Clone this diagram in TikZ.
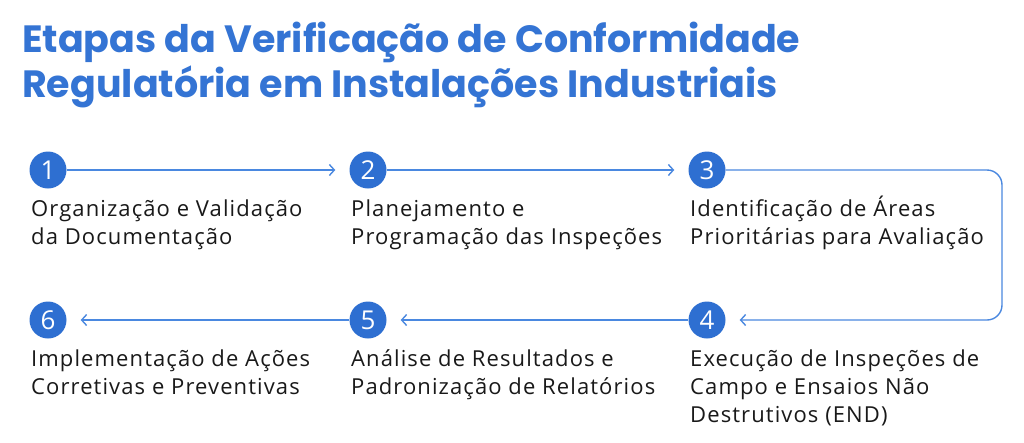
\documentclass[tikz,border=0pt]{standalone}
\usepackage{fontspec}
\setmainfont{Open Sans}
\newfontfamily\bodyfont{Open Sans}[LetterSpace=5]
\newfontfamily\titlefont{Poppins}[BoldFont={* Bold}]
\usetikzlibrary{arrows.meta}
\definecolor{titleblue}{RGB}{52,116,212}
\definecolor{circblue}{RGB}{46,111,209}
\definecolor{lineblue}{RGB}{74,136,224}
\definecolor{txt}{RGB}{25,25,25}
\tikzset{
  stepcirc/.style={circle, fill=circblue, minimum size=37pt, inner sep=0pt, text=white,
    font=\fontsize{26}{26}\selectfont},
  steptext/.style={anchor=base west, align=left, inner sep=0pt, text=txt,
    font=\bodyfont\fontsize{22}{28}\selectfont},
  flow/.style={draw=lineblue, line width=1.4pt, shorten >=14pt,
    -{Straight Barb[length=5pt,width=11pt]}},
  titletext/.style={anchor=base west, inner sep=0pt, text=titleblue,
    font=\titlefont\bfseries\fontsize{38}{45}\selectfont},
}
\begin{document}
\begin{tikzpicture}[x=1pt,y=-1pt]
\useasboundingbox[fill=white] (0,0) rectangle (1024,442);
% title
\node[titletext] (t1) at (22,52) {Etapas da Verificação de Conformidade};
\node[titletext] (t2) at (22,97) {Regulatória em Instalações Industriais};
% circles
\node[stepcirc] (c1) at (48,170) {1};
\node[stepcirc] (c2) at (368,170) {2};
\node[stepcirc] (c3) at (707,170) {3};
\node[stepcirc] (c4) at (707,320) {4};
\node[stepcirc] (c5) at (368,320) {5};
\node[stepcirc] (c6) at (48,320) {6};
% texts (anchor = baseline of last line)
\node[steptext] (s1) at (31,244) {Organização e Validação\\da Documentação};
\node[steptext] (s2) at (351,244) {Planejamento e\\Programação das Inspeções};
\node[steptext] (s3) at (690,244) {Identificação de Áreas\\Prioritárias para Avaliação};
\node[steptext] (s4) at (690,422) {Execução de Inspeções de\\Campo e Ensaios Não\\Destrutivos (END)};
\node[steptext] (s5) at (351,394) {Análise de Resultados e\\Padronização de Relatórios};
\node[steptext] (s6) at (31,394) {Implementação de Ações\\Corretivas e Preventivas};
% connectors
\coordinate (r) at (1002,245);
\draw[flow] (c1) -- (c2);
\draw[flow] (c2) -- (c3);
\draw[flow, rounded corners=15pt] (c3.east) -| (r) |- (c4.east);
\draw[flow] (c4) -- (c5);
\draw[flow] (c5) -- (c6);
\end{tikzpicture}
\end{document}
